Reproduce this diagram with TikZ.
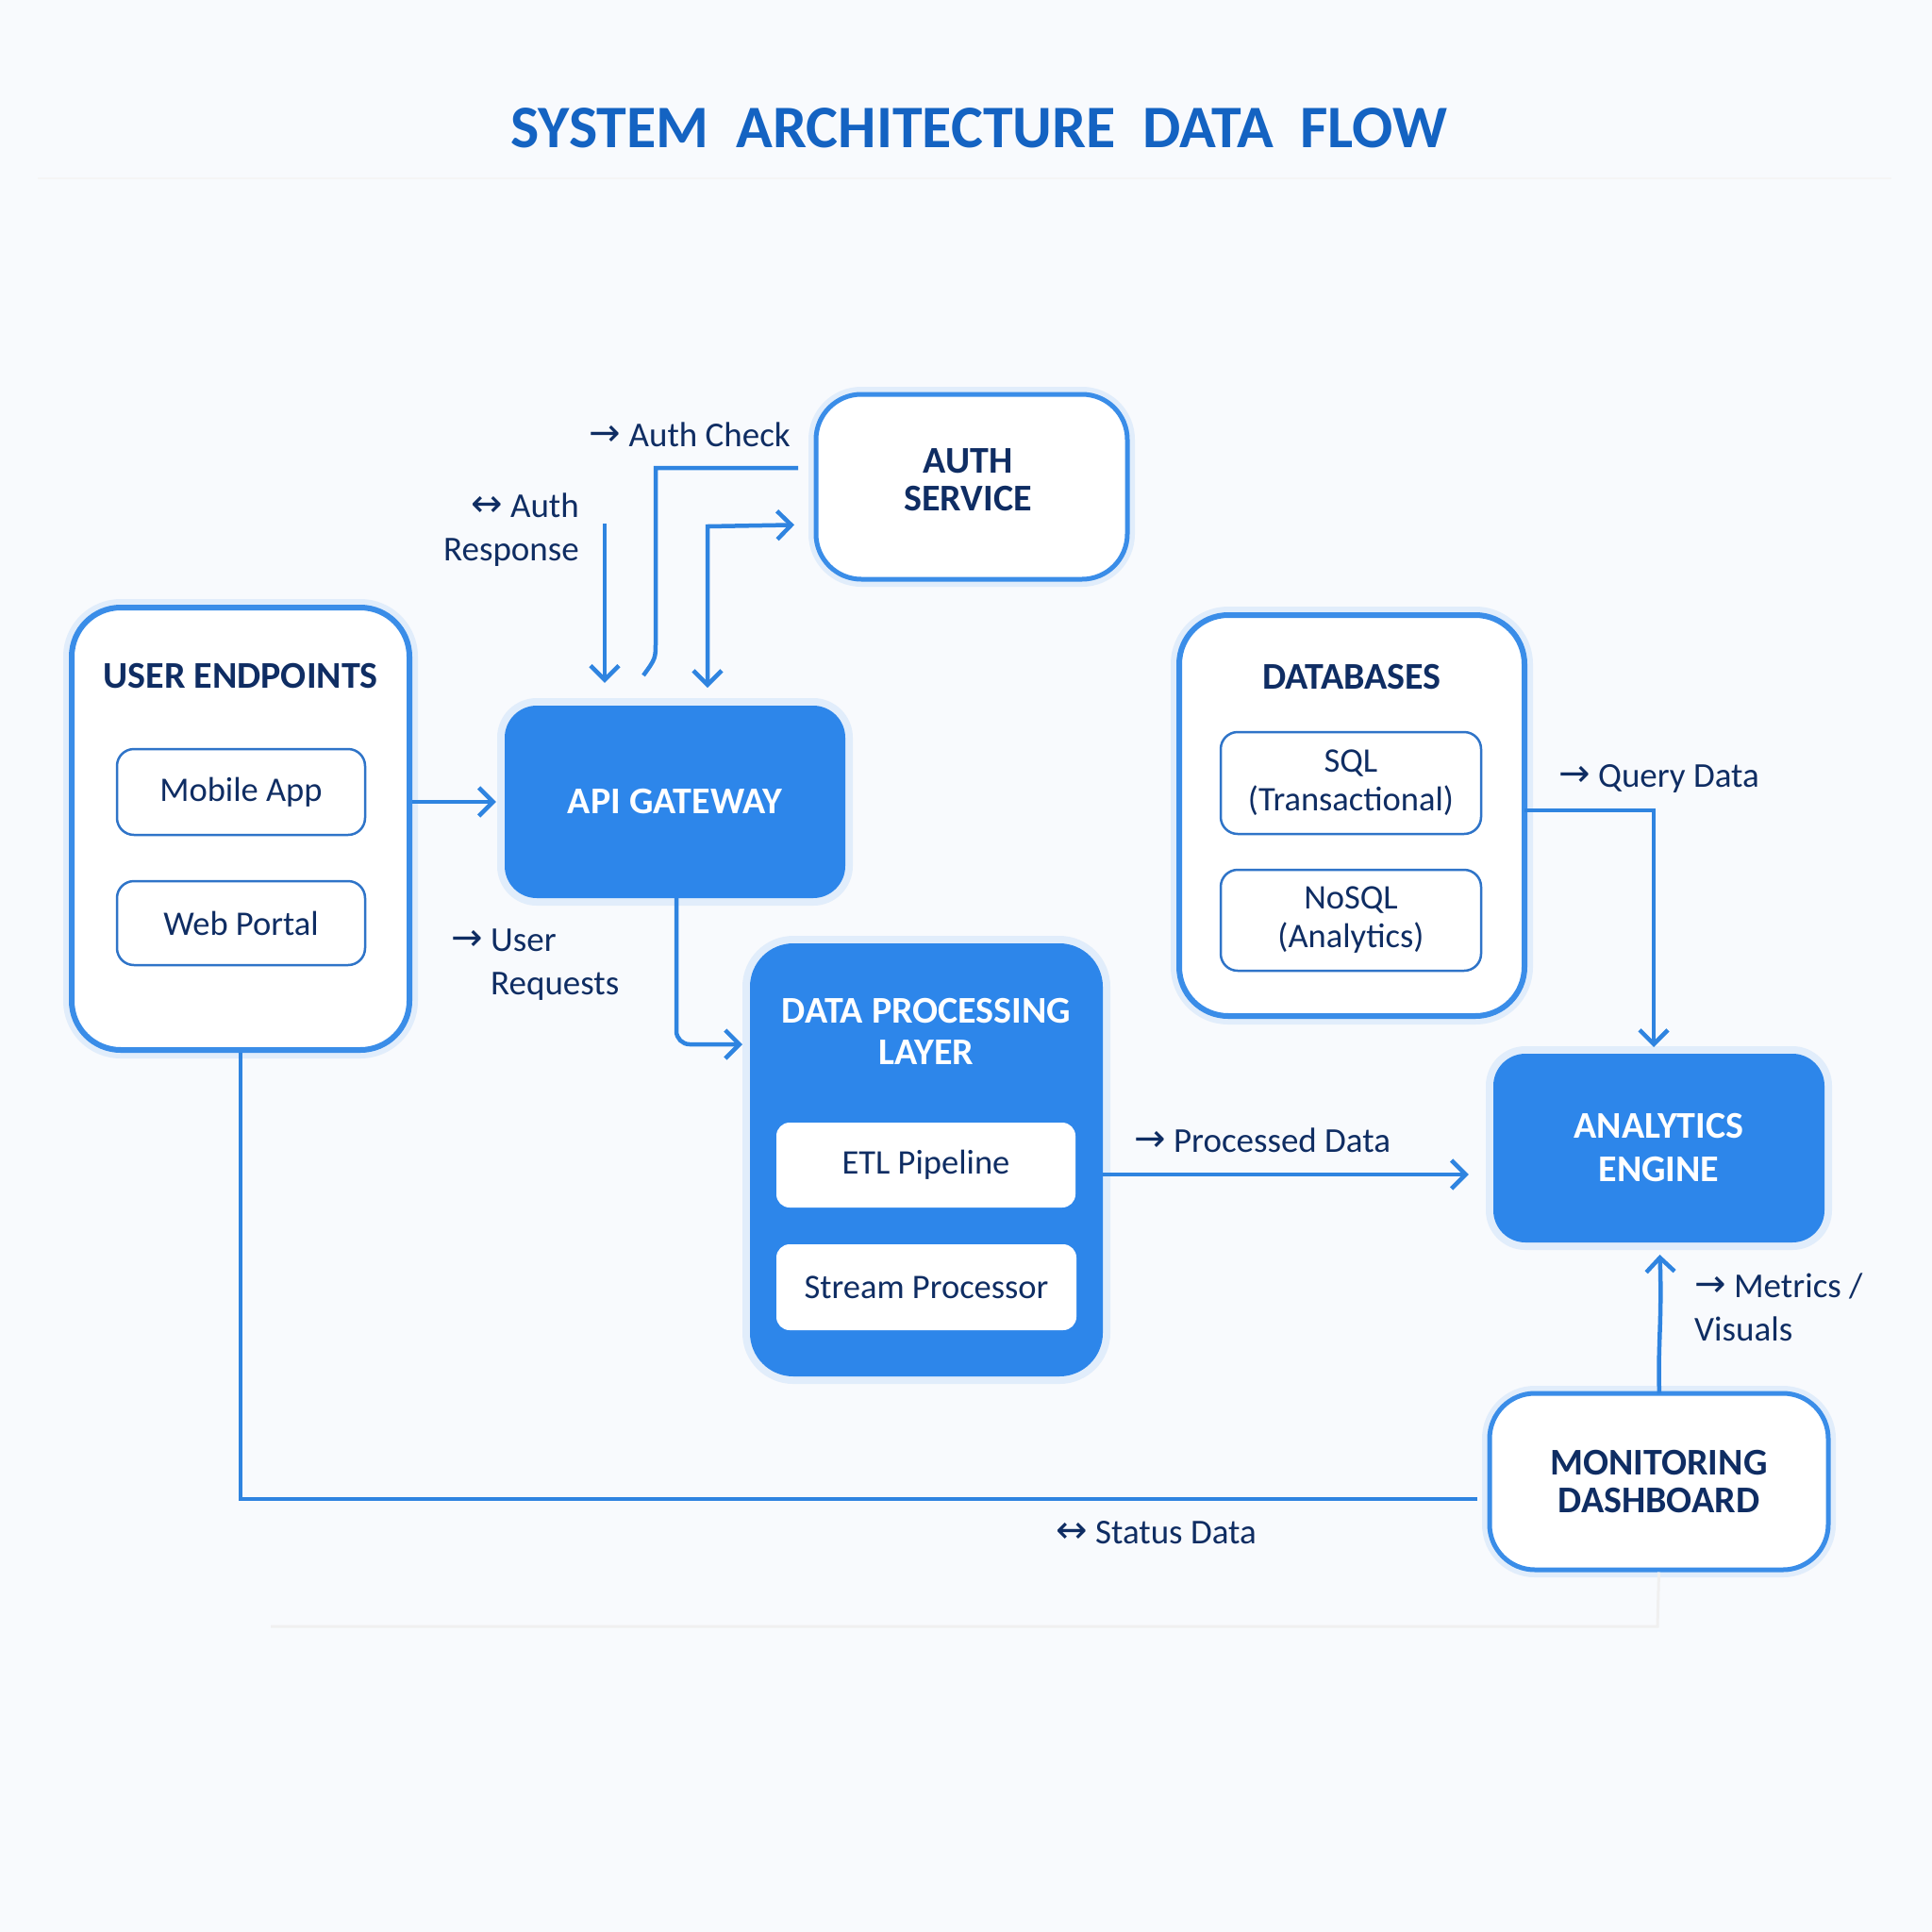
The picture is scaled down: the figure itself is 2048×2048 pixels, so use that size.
\documentclass[tikz,border=0pt]{standalone}
\usepackage{fontspec}
\setmainfont{Carlito}
\newfontfamily\arrowfont{DejaVu Sans}
\usetikzlibrary{arrows.meta,calc}
\definecolor{bgcol}{HTML}{F8FAFD}
\definecolor{bordblue}{HTML}{3A8DE8}
\definecolor{fillblue}{HTML}{2D86EA}
\definecolor{innerblue}{HTML}{2F74C8}
\definecolor{navy}{HTML}{0F2D63}
\definecolor{titleblue}{HTML}{1463C2}
\definecolor{connblue}{HTML}{2F84E0}
\definecolor{glowcol}{HTML}{E1EDFB}
\newcommand{\ar}{{\arrowfont\fontsize{40}{40}\selectfont\raisebox{1pt}{→}}}
\newcommand{\lr}{{\arrowfont\fontsize{40}{40}\selectfont\raisebox{1pt}{↔}}}
\tikzset{
  cont/.style={draw=bordblue, line width=6pt, fill=white, rounded corners=52pt, inner sep=0pt,
    preaction={draw=glowcol, line width=18pt}},
  softbox/.style={draw=bordblue, line width=5pt, fill=white, rounded corners=48pt, inner sep=0pt,
    text=navy, align=center, font=\bfseries\fontsize{40}{40}\selectfont,
    preaction={draw=glowcol, line width=16pt}},
  solidbox/.style={fill=fillblue, rounded corners=34pt, inner sep=0pt, text=white, align=center,
    font=\bfseries\fontsize{40}{46}\selectfont,
    preaction={draw=glowcol, line width=16pt}},
  innerbox/.style={draw=innerblue, line width=2.5pt, fill=white, rounded corners=18pt, inner sep=0pt,
    text=navy, align=center, font=\fontsize{36.5}{41}\selectfont},
  whitebox/.style={fill=white, rounded corners=14pt, inner sep=0pt, text=navy, align=center,
    font=\fontsize{36.5}{41}\selectfont},
  head/.style={text=navy, font=\bfseries\fontsize{40}{40}\selectfont},
  lbl/.style={text=navy, font=\fontsize{37}{46}\selectfont, inner sep=0pt},
  conn/.style={draw=connblue, line width=4.5pt},
  tip/.style={-{Straight Barb[length=15pt,width=30pt]}},
}
\begin{document}
\begin{tikzpicture}[x=1pt,y=-1pt]
\useasboundingbox (0,0) rectangle (2048,2048);
\fill[bgcol] (0,0) rectangle (2048,2048);

% title
\node (title) at (1038,136) [text=titleblue, font=\bfseries\fontsize{64}{64}\selectfont]
  {SYSTEM\hspace{0.45em}ARCHITECTURE\hspace{0.45em}DATA\hspace{0.45em}FLOW};
\coordinate (sepL) at (40,189);
\coordinate (sepR) at (2005,189);
\draw[draw=black!4, line width=2pt] (sepL) -- (sepR);

% user endpoints
\node (ue) at (255,878.5) [cont, minimum width=358pt, minimum height=469pt] {};
\node (uehead) at (255,717) [head] {USER ENDPOINTS};
\node (mobile) at (255.5,839.5) [innerbox, minimum width=263pt, minimum height=91pt] {Mobile App};
\node (web) at (255.5,978.5) [innerbox, minimum width=263pt, minimum height=89pt] {Web Portal};

% api gateway
\node (api) at (715.5,850) [solidbox, minimum width=361pt, minimum height=204pt] {API GATEWAY};

% auth service
\node (auth) at (1030,516) [softbox, minimum width=330pt, minimum height=196pt] {};
\node (authtext) at (1026,509) [text=navy, align=center, font=\bfseries\fontsize{40}{40}\selectfont] {AUTH\\SERVICE};

% data processing layer
\node (dpl) at (982,1229.5) [solidbox, rounded corners=46pt, minimum width=374pt, minimum height=459pt] {};
\node (dplhead) at (982,1093) [text=white, align=center, font=\bfseries\fontsize{40}{44}\selectfont] {DATA PROCESSING\\LAYER};
\node (etl) at (981.5,1235) [whitebox, minimum width=317pt, minimum height=90pt] {ETL Pipeline};
\node (stream) at (982,1364.5) [whitebox, minimum width=318pt, minimum height=91pt] {Stream Processor};

% databases
\node (db) at (1433,864.5) [cont, minimum width=366pt, minimum height=425pt] {};
\node (dbhead) at (1433,718) [head] {DATABASES};
\node (sql) at (1432,830) [innerbox, minimum width=276pt, minimum height=108pt] {SQL\\(Transactional)};
\node (nosql) at (1432,975.5) [innerbox, minimum width=276pt, minimum height=107pt] {NoSQL\\(Analytics)};

% analytics engine
\node (ae) at (1758.5,1217) [solidbox, minimum width=351pt, minimum height=200pt] {ANALYTICS\\ENGINE};

% monitoring dashboard
\node (mon) at (1758.5,1570.5) [softbox, minimum width=359pt, minimum height=187pt] {MONITORING\\DASHBOARD};

% ---- connectors ----
% user endpoints -> api gateway
\draw[conn, tip, shorten >=9pt] (ue.east |- api.west) -- (api.west);

% api gateway -> data processing layer
\coordinate (apiout) at (717,952);
\coordinate (dplin) at (795,1107);
\draw[conn, tip, rounded corners=14pt, shorten >=8pt] (apiout) |- (dplin);

% auth response (down into api)
\coordinate (arstart) at (641,555);
\draw[conn, tip, shorten >=24pt] (arstart) -- (arstart |- api.north);

% auth check line (from auth service, free end near api)
\coordinate (acstart) at (846,496);
\coordinate (acend) at (682,716);
\draw[conn] (acstart) -- (695,496) -- (695,680) .. controls (695,698) .. (acend);

% api <-> auth service
\coordinate (bistart) at (750,748);
\coordinate (biend) at (865,556);
\draw[conn, {Straight Barb[length=15pt,width=30pt]}-{Straight Barb[length=15pt,width=30pt]}, shorten <=19pt, shorten >=23pt]
  (bistart) -- (750,558) -- (biend);

% databases -> analytics
\coordinate (dbout) at (1616,859);
\coordinate (aein) at (1753,1117);
\draw[conn, tip, shorten >=7pt] (dbout) -| (aein);

% dpl -> analytics
\coordinate (dplout) at (1169,1245);
\draw[conn, tip, shorten >=26pt] (dplout) -- (ae.west |- dplout);

% monitoring -> analytics
\coordinate (monout) at (1759,1477);
\draw[conn, tip, shorten >=13pt] (monout) .. controls (1757,1430) and (1762,1400) .. (1759,1317);

% user endpoints -- monitoring
\coordinate (monin) at (1566,1589);
\draw[conn] (ue.south) |- (monin);

% faint trailing line
\coordinate (faintL) at (287,1724);
\draw[draw=black!6, line width=3pt] (mon.south) -- (1757,1724) -- (faintL);

% ---- labels ----
\node (lauthcheck) at (838,461) [lbl, anchor=east] {\ar\ Auth Check};
\node (lauthresp) at (614,562) [lbl, anchor=east, align=right] {\lr\ Auth\\Response};
\node (luser) at (520,1023) [lbl, anchor=west, align=left] {\llap{\ar\ }User\\Requests};
\node (lquery) at (1652,825) [lbl, anchor=west] {\ar\ Query Data};
\node (lproc) at (1202,1209) [lbl, anchor=west] {\ar\ Processed Data};
\node (lmetrics) at (1796,1386) [lbl, anchor=west, align=left] {\ar\ Metrics /\\Visuals};
\node (lstatus) at (1119,1625) [lbl, anchor=west] {\lr\ Status Data};
\end{tikzpicture}
\end{document}
